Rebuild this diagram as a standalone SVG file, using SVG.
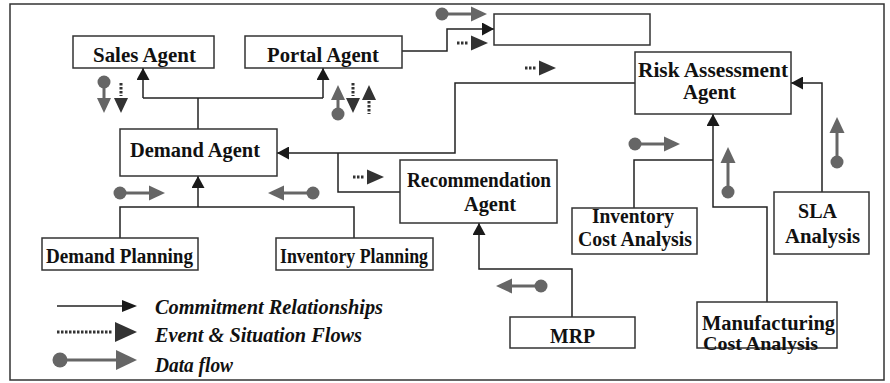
<svg xmlns="http://www.w3.org/2000/svg" width="890" height="383" viewBox="0 0 890 383">
  <defs>
    <style>
      .box { fill: #fff; stroke: #333; stroke-width: 1.5; }
      .lbl { font-family: "Liberation Serif", "Times New Roman", serif; font-weight: bold; font-size: 21px; fill: #111; }
      .lbl2 { font-family: "Liberation Serif", "Times New Roman", serif; font-weight: bold; font-size: 20px; fill: #111; }
      .leg { font-family: "Liberation Serif", "Times New Roman", serif; font-weight: bold; font-style: italic; font-size: 20px; fill: #111; }
      .conn { fill: none; stroke: #222; stroke-width: 1.5; }
      .dfl { stroke: #666; stroke-width: 3; fill: none; }
      .dfh { fill: #666; }
      .evl { stroke: #333; stroke-width: 3; stroke-dasharray: 2.5 1.5; fill: none; }
      .evh { fill: #333; }
    </style>
    <marker id="arrow" markerUnits="userSpaceOnUse" markerWidth="13" markerHeight="13" viewBox="0 0 12 13" refX="12" refY="6.5" orient="auto">
      <path d="M0,0 L12,6.5 L0,13 z" fill="#1a1a1a"/>
    </marker>
    <!-- data flow glyph, pointing right, origin at the dot -->
    <g id="df">
      <circle cx="0" cy="0" r="6.5" class="dfh"/>
      <line x1="0" y1="0" x2="30" y2="0" class="dfl"/>
      <polygon points="29,-7.5 45,0 29,7.5" class="dfh"/>
    </g>
    <!-- event flow glyph, pointing right, origin at the first dot -->
    <g id="ev">
      <line x1="0" y1="0" x2="12" y2="0" class="evl"/>
      <polygon points="14,-7.5 31,0 14,7.5" class="evh"/>
    </g>
  </defs>

  <!-- outer frame -->
  <rect x="10" y="4" width="874" height="376" fill="#fff" stroke="#333" stroke-width="1.5"/>

  <!-- connectors -->
  <g id="connectors">
    <path class="conn" d="M402,51 H447 V29 H494" marker-end="url(#arrow)"/>
    <path class="conn" d="M198,129 V98"/>
    <path class="conn" d="M143,98 H323"/>
    <path class="conn" d="M143,98 V68" marker-end="url(#arrow)"/>
    <path class="conn" d="M323,98 V68" marker-end="url(#arrow)"/>
    <path class="conn" d="M635,83 H455 V153 H277" marker-end="url(#arrow)"/>
    <path class="conn" d="M400,192 H338 V153"/>
    <path class="conn" d="M120,238 V207 H354 V238"/>
    <path class="conn" d="M198,207 V176" marker-end="url(#arrow)"/>
    <path class="conn" d="M572,317 V269 H479 V223" marker-end="url(#arrow)"/>
    <path class="conn" d="M634,208 V160 H713"/>
    <path class="conn" d="M767,302 V207 H713 V114" marker-end="url(#arrow)"/>
    <path class="conn" d="M822,192 V83 H791" marker-end="url(#arrow)"/>
  </g>

  <!-- flow glyphs along the connectors -->
  <g id="flows">
    <use href="#df" transform="translate(442,14)"/>
    <use href="#ev" transform="translate(457,43)"/>
    <use href="#ev" transform="translate(525,68)"/>
    <use href="#ev" transform="translate(353,177)"/>
    <use href="#df" transform="translate(120,193)"/>
    <use href="#df" transform="translate(313,193) rotate(180)"/>
    <use href="#df" transform="translate(635,144)"/>
    <use href="#df" transform="translate(728,192) rotate(-90)"/>
    <use href="#df" transform="translate(837,162) rotate(-90)"/>
    <use href="#df" transform="translate(541,286) rotate(180)"/>

    <!-- Sales Agent: data down, event down -->
    <circle cx="104" cy="82" r="6.5" class="dfh"/>
    <line x1="104" y1="82" x2="104" y2="99" class="dfl"/>
    <polygon points="97,98 111,98 104,113" class="dfh"/>
    <line x1="121" y1="83" x2="121" y2="96" class="evl"/>
    <polygon points="114,98 128,98 121,113" class="evh"/>

    <!-- Portal Agent: data up, event down, event up -->
    <polygon points="331,100 345,100 338,85" class="dfh"/>
    <line x1="338" y1="99" x2="338" y2="114" class="dfl"/>
    <circle cx="338" cy="114" r="6.5" class="dfh"/>
    <line x1="353" y1="83" x2="353" y2="96" class="evl"/>
    <polygon points="346,98 360,98 353,113" class="evh"/>
    <polygon points="362,100 376,100 369,85" class="evh"/>
    <line x1="369" y1="101" x2="369" y2="114" class="evl"/>
  </g>

  <!-- nodes -->
  <g id="sales-agent">
    <rect class="box" x="73" y="36" width="141" height="32"/>
    <text class="lbl" x="93" y="62" textLength="103" lengthAdjust="spacingAndGlyphs">Sales Agent</text>
  </g>
  <g id="portal-agent">
    <rect class="box" x="245" y="36" width="157" height="32"/>
    <text class="lbl" x="267" y="62" textLength="112" lengthAdjust="spacingAndGlyphs">Portal Agent</text>
  </g>
  <g id="blank-node">
    <rect class="box" x="494" y="14" width="156" height="31"/>
  </g>
  <g id="risk-assessment-agent">
    <rect class="box" x="635" y="52" width="156" height="62"/>
    <text class="lbl2" x="638" y="77" textLength="150" lengthAdjust="spacingAndGlyphs">Risk  Assessment</text>
    <text class="lbl2" x="683" y="99" textLength="53" lengthAdjust="spacingAndGlyphs">Agent</text>
  </g>
  <g id="demand-agent">
    <rect class="box" x="120" y="129" width="157" height="47"/>
    <text class="lbl" x="130" y="157" textLength="130" lengthAdjust="spacingAndGlyphs">Demand Agent</text>
  </g>
  <g id="recommendation-agent">
    <rect class="box" x="400" y="160" width="157" height="63"/>
    <text class="lbl2" x="407" y="187" textLength="144" lengthAdjust="spacingAndGlyphs">Recommendation</text>
    <text class="lbl2" x="464" y="211" textLength="52" lengthAdjust="spacingAndGlyphs">Agent</text>
  </g>
  <g id="demand-planning">
    <rect class="box" x="42" y="238" width="156" height="32"/>
    <text class="lbl2" x="46" y="263" textLength="147" lengthAdjust="spacingAndGlyphs">Demand Planning</text>
  </g>
  <g id="inventory-planning">
    <rect class="box" x="276" y="238" width="157" height="32"/>
    <text class="lbl2" x="280" y="263" textLength="148" lengthAdjust="spacingAndGlyphs">Inventory Planning</text>
  </g>
  <g id="inventory-cost-analysis">
    <rect class="box" x="572" y="208" width="125" height="46"/>
    <text class="lbl2" x="592" y="223" textLength="82" lengthAdjust="spacingAndGlyphs">Inventory</text>
    <text class="lbl2" x="578" y="246" textLength="114" lengthAdjust="spacingAndGlyphs">Cost Analysis</text>
  </g>
  <g id="sla-analysis">
    <rect class="box" x="774" y="192" width="95" height="62"/>
    <text class="lbl2" x="798" y="218" textLength="39" lengthAdjust="spacingAndGlyphs">SLA</text>
    <text class="lbl2" x="785" y="243" textLength="75" lengthAdjust="spacingAndGlyphs">Analysis</text>
  </g>
  <g id="mrp">
    <rect class="box" x="510" y="317" width="125" height="31"/>
    <text class="lbl2" x="550" y="343" textLength="45" lengthAdjust="spacingAndGlyphs">MRP</text>
  </g>
  <g id="manufacturing-cost-analysis">
    <rect class="box" x="697" y="302" width="140" height="46"/>
    <text class="lbl2" x="702" y="330" font-size="19" textLength="133" lengthAdjust="spacingAndGlyphs">Manufacturing</text>
    <text class="lbl2" x="703" y="350" font-size="19" style="font-size:19px" textLength="115" lengthAdjust="spacingAndGlyphs">Cost Analysis</text>
  </g>

  <!-- legend -->
  <g id="legend">
    <line x1="57" y1="306" x2="124" y2="306" stroke="#222" stroke-width="1.5"/>
    <polygon points="122,300 137,306 122,312" fill="#1a1a1a"/>
    <text class="leg" x="155" y="314" textLength="228" lengthAdjust="spacingAndGlyphs">Commitment  Relationships</text>

    <line x1="57" y1="332" x2="113" y2="332" class="evl" stroke-dasharray="3.5 2"/>
    <polygon points="115,322 137,332 115,342" class="evh"/>
    <text class="leg" x="155" y="342" textLength="207" lengthAdjust="spacingAndGlyphs">Event &amp; Situation  Flows</text>

    <circle cx="60" cy="360" r="7.5" class="dfh"/>
    <line x1="60" y1="360" x2="118" y2="360" class="dfl"/>
    <polygon points="116,350 137,360 116,370" class="dfh"/>
    <text class="leg" x="155" y="372" textLength="78" lengthAdjust="spacingAndGlyphs">Data flow</text>
  </g>
</svg>
